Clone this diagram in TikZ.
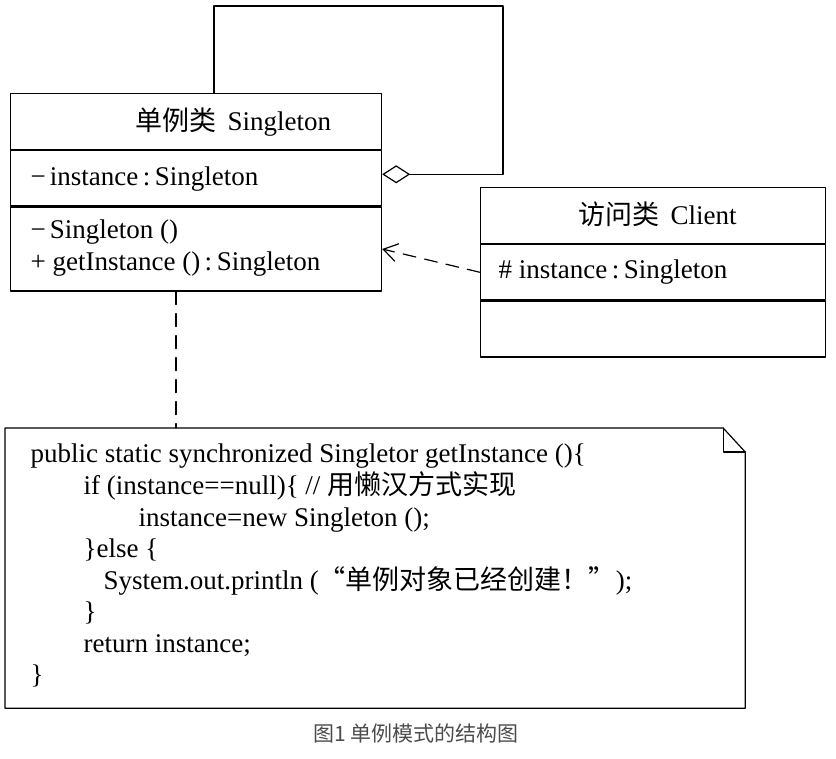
\documentclass[tikz,border=0pt]{standalone}
\usepackage{fontspec}
\setmainfont{Liberation Serif}
\newfontfamily\cjk{Noto Sans CJK SC}
\usetikzlibrary{arrows.meta}
\begin{document}
\begin{tikzpicture}[x=1pt, y=-1pt, line join=round, line cap=round, line width=1.2pt, >={Straight Barb[length=14pt,width=18pt]}, font=\fontsize{27}{31}\selectfont]
	\tikzset{box/.style={draw, inner sep=0pt, anchor=north west},
		txt/.style={anchor=base west, inner sep=0pt},
		dashline/.style={dash pattern=on 13pt off 9pt}}
	\useasboundingbox (0,0) rectangle (836,759);
	\node[box, minimum width=371pt, minimum height=56pt] (St) at (10,93) {};
	\node[box, minimum width=371pt, minimum height=55pt] (Sa) at (St.south west) {};
	\node[box, minimum width=371pt, minimum height=84pt] (Sm) at (Sa.south west) {};
	\node[box, minimum width=345pt, minimum height=56pt] (Ct) at (480,187) {};
	\node[box, minimum width=345pt, minimum height=55pt] (Ca) at (Ct.south west) {};
	\node[box, minimum width=345pt, minimum height=56pt] (Cm) at (Ca.south west) {};
	\node[inner sep=0pt, anchor=north west, minimum width=739pt, minimum height=279pt] (N) at (5,428) {};
	\draw (N.south west) -- (N.north west) -- ([xshift=-22pt]N.north east) -- ([yshift=-24pt]N.north east) -- (N.south east) -- cycle;
	\draw ([xshift=-22pt]N.north east) |- ([yshift=-24pt]N.north east);
	\node[txt] (St-t) at (135,131) {{\cjk 单例类}\hspace{11pt}Singleton};
	\node[txt] (Sa-t) at (30,186) {−\hspace{4pt}instance\,:\,Singleton};
	\node[txt] (Sm-t1) at (30,239) {−\hspace{4pt}Singleton ()};
	\node[txt] (Sm-t2) at (30,271) {+ getInstance ()\,:\,Singleton};
	\node[txt] (Ct-t) at (578,225) {{\cjk 访问类}\hspace{11pt}Client};
	\node[txt] (Ca-t) at (498,279) {\# instance\,:\,Singleton};
	\draw[-{Diamond[open,length=28pt,width=18pt]}] ([xshift=204pt]St.north west) |- (503,6) |- ([yshift=4pt]Sa.east);
	\draw[->, dashline] (Ca.west) -- (Sm.east);
	\draw[dashline] ([xshift=166pt]Sm.south west) -- ([xshift=171pt]N.north west);
	\foreach \x/\y/\t [count=\i] in {30/463/{public static synchronized Singletor getInstance ()\{},
		83/494.5/{if (instance==null)\{ // {\cjk 用懒汉方式实现}},
		138/526/{instance=new Singleton ();},
		83/557.5/{\}else \{},
		103/589/{System.out.println ({\cjk “单例对象已经创建！”});},
		83/620.5/{\}},
		83/652/{return instance;},
		30/683.5/{\}}}
	\node[txt] (L\i) at (\x,\y) {\t};
	\node[txt, font=\cjk\fontsize{21}{24}\selectfont, text=black!70] (cap) at (313,741) {图1 单例模式的结构图};
\end{tikzpicture}
\end{document}
